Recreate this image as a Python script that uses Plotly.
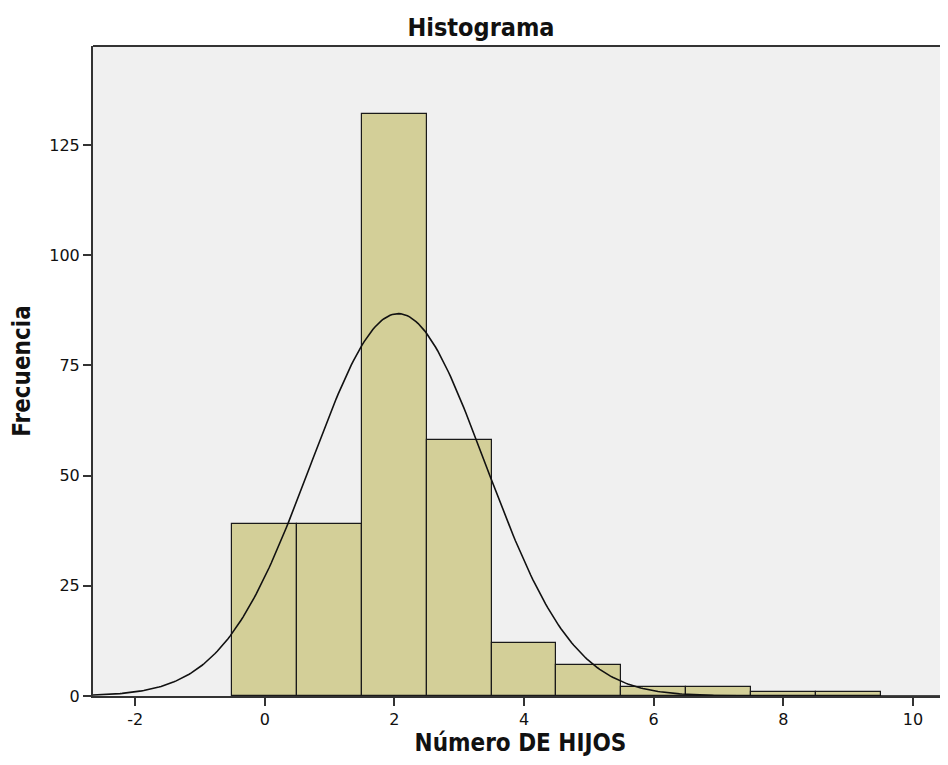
import numpy as np
import plotly.graph_objects as go

# Data
hijos = [0, 1, 2, 3, 4, 5, 6, 7, 8, 9]
frecuencia = [39, 39, 132, 58, 12, 7, 2, 2, 1, 1]
x_ticks = [-2, 0, 2, 4, 6, 8, 10]
y_ticks = [0, 25, 50, 75, 100, 125]

# Normal curve fitted to the data (as SPSS draws it)
h = np.array(hijos, dtype=float)
f = np.array(frecuencia, dtype=float)
n = f.sum()
mean = (h * f).sum() / n
sd = np.sqrt(((h - mean) ** 2 * f).sum() / (n - 1))
xc = np.linspace(-2.7, 10.6, 400)
yc = n * 1.0 / (sd * np.sqrt(2 * np.pi)) * np.exp(-0.5 * ((xc - mean) / sd) ** 2)

font_main = "Liberation Sans Narrow, DejaVu Sans Condensed, Arial Narrow, sans-serif"
font_tick = "DejaVu Sans, Verdana, sans-serif"

W, H = 940, 749

fig = go.Figure()
fig.add_trace(go.Bar(
    x=hijos, y=frecuencia, width=1.0,
    marker=dict(color="#d3cf98", line=dict(color="#1a1a1a", width=1.2)),
    showlegend=False, hoverinfo="x+y",
))
fig.add_trace(go.Scatter(
    x=xc, y=yc, mode="lines",
    line=dict(color="#111111", width=1.6),
    showlegend=False, hoverinfo="skip",
))

fig.update_layout(
    width=W, height=H,
    margin=dict(l=85, r=0, t=38, b=61),
    paper_bgcolor="white",
    plot_bgcolor="#f0f0f0",
    bargap=0,
    title=dict(text="<b>Histograma</b>", x=473 / W, xanchor="center",
               y=1 - 19 / H, yanchor="middle",
               font=dict(family=font_main, size=25, color="#111111")),
    xaxis=dict(
        range=[-2.65, 10.54], tickvals=x_ticks, ticktext=[str(v) for v in x_ticks],
        showgrid=False, zeroline=False, automargin=False,
        showline=True, linecolor="#333333", linewidth=2,
        ticks="outside", ticklen=8, tickwidth=2, tickcolor="#333333",
        tickfont=dict(family=font_tick, size=16, color="#111111"),
        title=dict(text="<b>Número DE HIJOS</b>", standoff=19,
                   font=dict(family=font_main, size=24, color="#111111")),
    ),
    yaxis=dict(
        range=[0, 147.5], tickvals=y_ticks, ticktext=[str(v) for v in y_ticks],
        showgrid=False, zeroline=False, automargin=False,
        showline=True, linecolor="#333333", linewidth=2,
        ticks="outside", ticklen=8, tickwidth=2, tickcolor="#333333",
        tickfont=dict(family=font_tick, size=16, color="#111111"),
        title=dict(text="<b>Frecuencia</b>", standoff=19,
                   font=dict(family=font_main, size=24, color="#111111")),
    ),
)
# top border of the plot frame
fig.add_shape(type="line", xref="paper", yref="paper", x0=0, x1=1, y0=1, y1=1,
              line=dict(color="#333333", width=2))

fig.write_html("out.html")
